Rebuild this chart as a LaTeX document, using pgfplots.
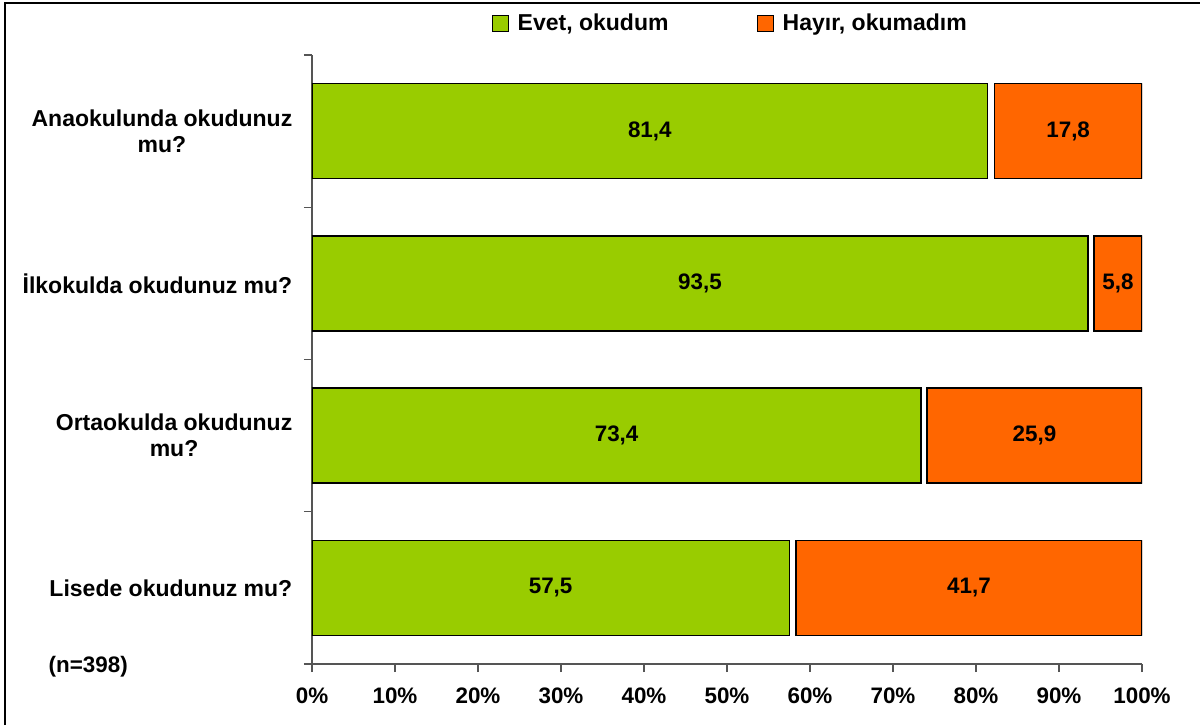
\documentclass[border=0pt]{standalone}
\usepackage{pgfplots}
\pgfplotsset{compat=1.18}
\usepackage{pgfplotstable}
\usepackage{fontspec}
\setmainfont{Liberation Sans}
\definecolor{cgreen}{HTML}{99CC00}
\definecolor{corange}{HTML}{FF6600}
\definecolor{axgray}{HTML}{555555}
\pgfplotstableread{
y yes na no
3 81.4 0.8 17.8
2 93.5 0.7 5.8
1 73.4 0.7 25.9
0 57.5 0.8 41.7
}\data
\pgfplotstableread{
x y lab
40.7 3 81,4
91.1 3 17,8
46.75 2 93,5
97.1 2 5,8
36.7 1 73,4
87.05 1 25,9
28.75 0 57,5
79.15 0 41,7
}\labs
\begin{document}
\fontsize{11pt}{13pt}\selectfont\bfseries
\begin{tikzpicture}
\path[use as bounding box] (0,0) rectangle (600pt,362.5pt);
\draw[line width=1pt] (2.5pt,0) -- (2.5pt,361pt) -- (600pt,361pt);
\begin{axis}[
  at={(156pt,30.5pt)}, anchor=south west,
  scale only axis, width=415pt, height=304.5pt,
  xbar stacked, bar width=47.5pt,
  xmin=0, xmax=100, ymin=-0.5, ymax=3.5,
  axis lines*=left,
  axis line style={axgray, line width=0.6pt},
  tick style={axgray, line width=0.6pt},
  tick align=outside,
  major tick length=4pt,
  xtick={0,10,...,100},
  xticklabels={0\%,10\%,20\%,30\%,40\%,50\%,60\%,70\%,80\%,90\%,100\%},
  xticklabel style={font=\fontsize{11.2pt}{13pt}\selectfont\bfseries, yshift=-4pt},
  ytick={-0.5,0.5,1.5,2.5,3.5},
  yticklabels={},
  extra y ticks={0,1,2,3},
  extra y tick labels={Lisede okudunuz mu?,{Ortaokulda okudunuz\\mu?},İlkokulda okudunuz mu?,{Anaokulunda okudunuz\\mu?}},
  extra y tick style={major tick length=0pt, yticklabel style={align=center, font=\fontsize{11.5pt}{13pt}\selectfont\bfseries, xshift=-6pt}},
  legend style={at={(0.505,1.052)}, anchor=center, draw=none, fill=none,
    legend columns=2, font=\fontsize{11.5pt}{13pt}\selectfont\bfseries,
    /tikz/every odd column/.append style={column sep=2.5pt},
    /tikz/every even column/.append style={column sep=42pt}},
]
\addplot[fill=cgreen, draw=black, line width=0.75pt,
  legend image code/.code={\draw[fill=cgreen,draw=black,line width=0.6pt] (0pt,-4pt) rectangle (8pt,4pt);}]
  table[x=yes, y=y] {\data};
\addlegendentry{Evet, okudum}
\addplot[fill=none, draw=none, forget plot] table[x=na, y=y] {\data};
\addplot[fill=corange, draw=black, line width=0.75pt,
  legend image code/.code={\draw[fill=corange,draw=black,line width=0.6pt] (0pt,-4pt) rectangle (8pt,4pt);}]
  table[x=no, y=y] {\data};
\addlegendentry{Hayır, okumadım}
\end{axis}
\begin{axis}[
  at={(156pt,30.5pt)}, anchor=south west,
  scale only axis, width=415pt, height=304.5pt,
  xmin=0, xmax=100, ymin=-0.5, ymax=3.5,
  hide axis,
]
\addplot[draw=none, mark=none, nodes near coords, point meta=explicit symbolic,
  every node near coord/.style={anchor=center, font=\fontsize{11.2pt}{13pt}\selectfont\bfseries, text=black}]
  table[x=x, y=y, meta=lab] {\labs};
\end{axis}
\node[anchor=west, font=\fontsize{11.2pt}{13pt}\selectfont\bfseries] at (20.5pt,29pt) {(n=398)};
\end{tikzpicture}
\end{document}
